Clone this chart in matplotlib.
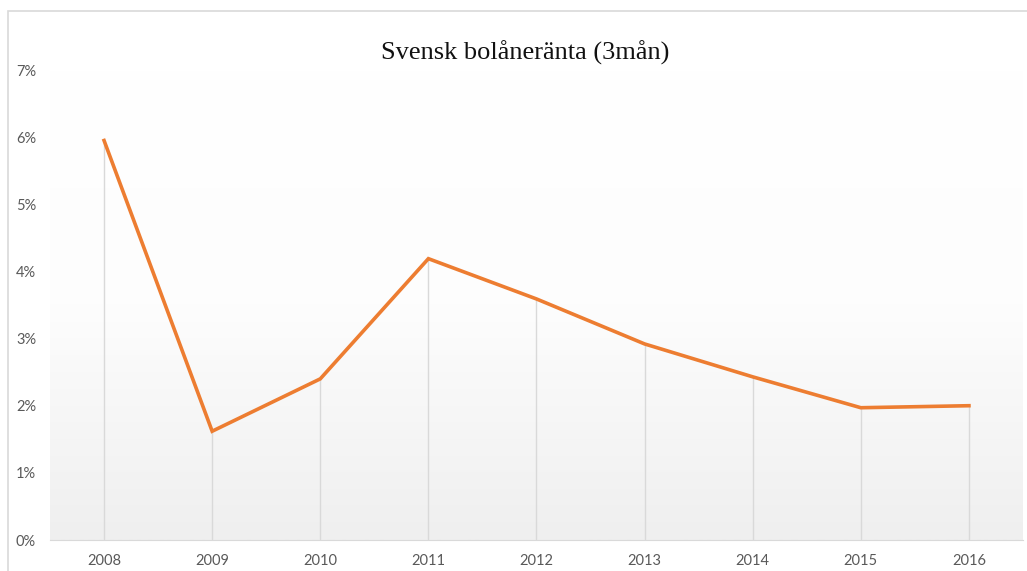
import numpy as np
import matplotlib.pyplot as plt
from matplotlib.patches import Rectangle
from matplotlib.ticker import FuncFormatter

years = ["2008", "2009", "2010", "2011", "2012", "2013", "2014", "2015", "2016"]
rate = [5.95, 1.62, 2.40, 4.19, 3.59, 2.92, 2.43, 1.97, 2.00]

fig = plt.figure(figsize=(10.27, 5.71), dpi=100)
fig.patch.set_facecolor("white")

# outer chart border (cut off at bottom and right like the screenshot)
fig.patches.append(Rectangle((8 / 1027, -0.05), 1.1, (560 / 571) + 0.05,
                             transform=fig.transFigure, fill=False,
                             edgecolor="#d9d9d9", linewidth=1.2))

ax = fig.add_axes([50 / 1027, 31 / 571, 973 / 1027, 470 / 571])
x = np.arange(len(years))
ax.set_xlim(-0.5, len(years) - 0.5)
ax.set_ylim(0, 7)

# soft vertical gradient background
grad = np.linspace(0, 1, 256).reshape(-1, 1)
ax.imshow(grad, cmap=plt.matplotlib.colors.LinearSegmentedColormap.from_list(
    "bg", ["#ffffff", "#fdfdfd", "#efefef"]), aspect="auto",
    extent=(-0.5, len(years) - 0.5, 0, 7), origin="upper", zorder=0)

ax.vlines(x, 0, rate, color="#d9d9d9", linewidth=1.0, zorder=1)
ax.plot(x, rate, color="#ed7d31", linewidth=2.6, solid_joinstyle="miter", zorder=3)

ax.set_xticks(x)
ax.set_xticklabels(years)
ax.set_yticks(range(0, 8))
ax.yaxis.set_major_formatter(FuncFormatter(lambda v, p: f"{int(v)}%"))
ax.tick_params(length=0, labelsize=10.5, colors="#595959", pad=10)
ax.tick_params(axis="y", pad=10)
for lbl in ax.get_xticklabels() + ax.get_yticklabels():
    lbl.set_family("Lato")

for s in ["top", "right", "left"]:
    ax.spines[s].set_visible(False)
ax.spines["bottom"].set_color("#d9d9d9")

fig.text(0.511, 0.907, "Svensk bolåneränta (3mån)", ha="center", va="center",
         fontsize=19, family="Liberation Serif", color="#111111")

fig.savefig("out.png", dpi=100)
